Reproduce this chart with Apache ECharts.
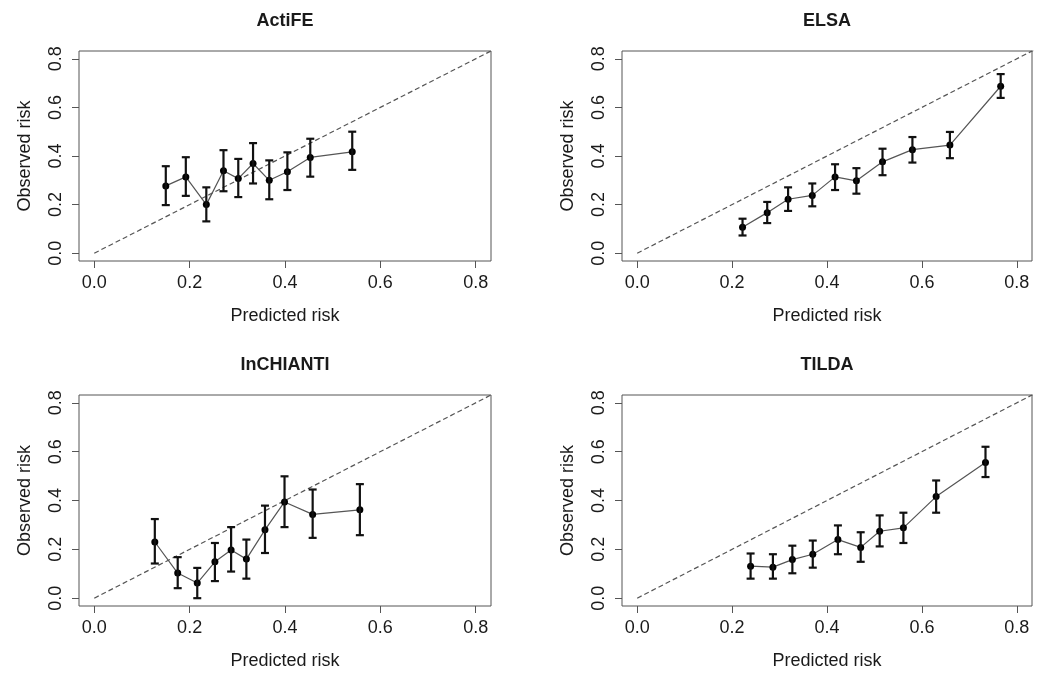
<!DOCTYPE html>
<html>
<head>
<meta charset="utf-8">
<script src="https://cdn.jsdelivr.net/npm/echarts@6/dist/echarts.min.js"></script>
<style>
  html, body { margin: 0; padding: 0; background: #fff; }
  #main { width: 1039px; height: 677px; }
</style>
</head>
<body>
<div id="main"></div>
<script>
// panel titles
var cohorts = ['ActiFE', 'ELSA', 'InCHIANTI', 'TILDA'];

// ActiFE
var actifePred = [0.150, 0.192, 0.235, 0.271, 0.302, 0.333, 0.367, 0.405, 0.453, 0.541];
var actifeObs  = [0.277, 0.314, 0.200, 0.339, 0.307, 0.369, 0.300, 0.335, 0.394, 0.417];
var actifeLo   = [0.198, 0.236, 0.131, 0.255, 0.231, 0.287, 0.222, 0.260, 0.315, 0.343];
var actifeHi   = [0.358, 0.395, 0.271, 0.424, 0.388, 0.453, 0.382, 0.415, 0.471, 0.500];

// ELSA
var elsaPred = [0.222, 0.274, 0.318, 0.369, 0.417, 0.462, 0.517, 0.580, 0.659, 0.766];
var elsaObs  = [0.107, 0.167, 0.222, 0.238, 0.314, 0.298, 0.376, 0.426, 0.445, 0.687];
var elsaLo   = [0.073, 0.124, 0.174, 0.193, 0.260, 0.245, 0.321, 0.373, 0.391, 0.639];
var elsaHi   = [0.142, 0.211, 0.271, 0.287, 0.366, 0.350, 0.430, 0.478, 0.499, 0.737];

// InCHIANTI
var inchiantiPred = [0.127, 0.175, 0.216, 0.253, 0.287, 0.319, 0.358, 0.399, 0.458, 0.557];
var inchiantiObs  = [0.230, 0.103, 0.062, 0.149, 0.197, 0.160, 0.280, 0.394, 0.343, 0.362];
var inchiantiLo   = [0.142, 0.041, 0.000, 0.070, 0.109, 0.080, 0.185, 0.291, 0.247, 0.258];
var inchiantiHi   = [0.324, 0.168, 0.124, 0.226, 0.291, 0.240, 0.379, 0.499, 0.445, 0.467];

// TILDA
var tildaPred = [0.239, 0.286, 0.327, 0.370, 0.423, 0.471, 0.511, 0.561, 0.630, 0.734];
var tildaObs  = [0.131, 0.127, 0.158, 0.180, 0.240, 0.208, 0.274, 0.288, 0.416, 0.556];
var tildaLo   = [0.080, 0.080, 0.102, 0.125, 0.180, 0.149, 0.212, 0.226, 0.350, 0.496];
var tildaHi   = [0.183, 0.180, 0.215, 0.236, 0.298, 0.270, 0.339, 0.350, 0.482, 0.620];

// tick labels and the perfect-calibration line
var ticks = [0, 0.2, 0.4, 0.6, 0.8];
var diagonal = [0, 1];

var panelData = [
  [actifePred, actifeObs, actifeLo, actifeHi],
  [elsaPred, elsaObs, elsaLo, elsaHi],
  [inchiantiPred, inchiantiObs, inchiantiLo, inchiantiHi],
  [tildaPred, tildaObs, tildaLo, tildaHi]
];

var FONT = 'Liberation Sans, Arial, Helvetica, sans-serif';
var TXT = '#1a1a1a';

var grids = [
  { left: 79, top: 51, width: 412, height: 210 },
  { left: 622, top: 51, width: 410, height: 210 },
  { left: 79, top: 395, width: 412, height: 211 },
  { left: 622, top: 395, width: 410, height: 211 }
];

// error bar with caps
function errBar(params, api) {
  var x = api.value(0);
  var hi = api.coord([x, api.value(2)]);
  var lo = api.coord([x, api.value(1)]);
  var w = 4;
  var st = { stroke: '#111', lineWidth: 2.2 };
  return {
    type: 'group',
    children: [
      { type: 'line', shape: { x1: hi[0], y1: hi[1], x2: lo[0], y2: lo[1] }, style: st },
      { type: 'line', shape: { x1: hi[0] - w, y1: hi[1], x2: hi[0] + w, y2: hi[1] }, style: st },
      { type: 'line', shape: { x1: lo[0] - w, y1: lo[1], x2: lo[0] + w, y2: lo[1] }, style: st }
    ]
  };
}

var titles = [], xAxes = [], yAxes = [], series = [];

grids.forEach(function (g, i) {
  g.show = true;
  g.borderColor = '#555';
  g.borderWidth = 1;
  g.backgroundColor = '#fff';

  titles.push({
    text: cohorts[i],
    left: g.left + g.width / 2,
    top: g.top - 39,
    textAlign: 'center',
    padding: 0,
    textStyle: { fontFamily: FONT, fontSize: 18, fontWeight: 'bold', color: TXT }
  });

  xAxes.push({
    type: 'value',
    gridIndex: i,
    min: -0.032,
    max: 0.832,
    name: 'Predicted risk',
    nameLocation: 'middle',
    nameGap: 46,
    nameTextStyle: { fontFamily: FONT, fontSize: 18, color: TXT },
    axisLine: { show: false, onZero: false },
    splitLine: { show: false },
    axisTick: { show: true, length: 7, customValues: ticks, lineStyle: { color: '#555' } },
    axisLabel: {
      customValues: ticks,
      margin: 13,
      fontFamily: FONT, fontSize: 18, color: TXT,
      formatter: function (v) { return v.toFixed(1); }
    }
  });

  yAxes.push({
    type: 'value',
    gridIndex: i,
    min: -0.032,
    max: 0.832,
    name: 'Observed risk',
    nameLocation: 'middle',
    nameRotate: 90,
    nameGap: 45,
    nameTextStyle: { fontFamily: FONT, fontSize: 18, color: TXT },
    axisLine: { show: false, onZero: false },
    splitLine: { show: false },
    axisTick: { show: true, length: 7, customValues: ticks, lineStyle: { color: '#555' } },
    axisLabel: {
      customValues: ticks,
      rotate: 90,
      margin: 14,
      fontFamily: FONT, fontSize: 18, color: TXT,
      formatter: function (v) { return v.toFixed(1); }
    }
  });

  var d = panelData[i];

  series.push({
    type: 'line',
    xAxisIndex: i,
    yAxisIndex: i,
    data: [[diagonal[0], diagonal[0]], [diagonal[1], diagonal[1]]],
    symbol: 'none',
    silent: true,
    clip: true,
    lineStyle: { color: '#555', width: 1.2, type: [5, 3] }
  });

  series.push({
    type: 'line',
    xAxisIndex: i,
    yAxisIndex: i,
    data: d[0].map(function (x, k) { return [x, d[1][k]]; }),
    symbol: 'circle',
    symbolSize: 7,
    itemStyle: { color: '#000' },
    lineStyle: { color: '#555', width: 1.2 },
    z: 3
  });

  series.push({
    type: 'custom',
    xAxisIndex: i,
    yAxisIndex: i,
    renderItem: errBar,
    encode: { x: 0, y: [1, 2] },
    data: d[0].map(function (x, k) { return [x, d[2][k], d[3][k]]; }),
    z: 4
  });
});

var chart = echarts.init(document.getElementById('main'));
chart.setOption({
  backgroundColor: '#fff',
  animation: false,
  title: titles,
  grid: grids,
  xAxis: xAxes,
  yAxis: yAxes,
  series: series
});
</script>
</body>
</html>
